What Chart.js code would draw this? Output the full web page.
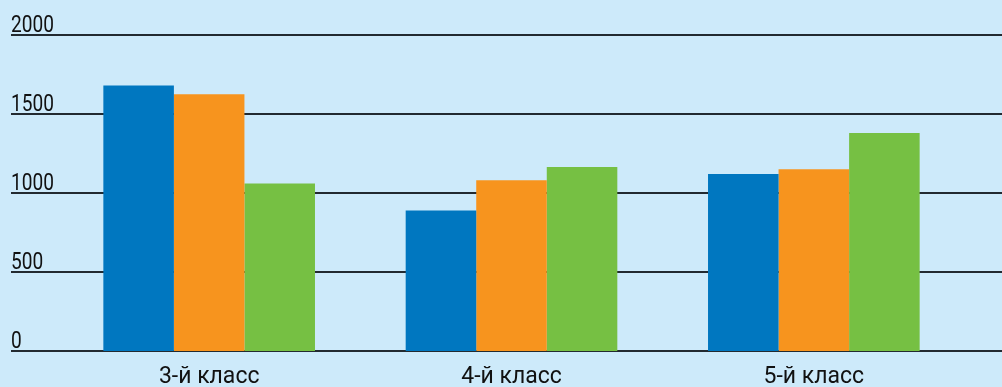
<!DOCTYPE html>
<html>
<head>
<meta charset="utf-8">
<script src="https://cdn.jsdelivr.net/npm/chart.js@4.4.1/dist/chart.umd.min.js"></script>
<style>
  html, body { margin: 0; padding: 0; background: #cdeafa; }
  #wrap { width: 1002px; height: 387px; position: relative; }
</style>
</head>
<body>
<div id="wrap"><canvas id="grafico"></canvas></div>
<script>
// datos
var clases = ['3-й класс', '4-й класс', '5-й класс'];
var serie1 = [1680, 890, 1120];
var serie2 = [1625, 1080, 1150];
var serie3 = [1060, 1165, 1380];
var marcas = [0, 500, 1000, 1500, 2000];

var colores = ['#0077c0', '#f7941e', '#76c043'];
var fuente = '23px Roboto, sans-serif';

// texto con ancho ajustable (la fuente condensada no esta instalada)
function texto(ctx, t, x, y, align, sx) {
  ctx.save();
  ctx.translate(x, y);
  ctx.scale(sx, 1);
  ctx.textAlign = align;
  ctx.fillText(t, 0, 0);
  ctx.restore();
}

// fondo, lineas de la grilla y textos de los ejes
var fondoYLineas = {
  id: 'fondoYLineas',
  beforeDraw: function(chart) {
    var ctx = chart.ctx;
    ctx.save();
    ctx.fillStyle = '#cdeafa';
    ctx.fillRect(0, 0, chart.width, chart.height);
    ctx.restore();
  },
  beforeDatasetsDraw: function(chart) {
    var ctx = chart.ctx;
    var y = chart.scales.y;
    ctx.save();
    ctx.strokeStyle = '#222a30';
    ctx.lineWidth = 2;
    ctx.fillStyle = '#111';
    ctx.font = fuente;
    ctx.textBaseline = 'alphabetic';
    for (var i = 0; i < marcas.length; i++) {
      var py = Math.round(y.getPixelForValue(marcas[i]));
      ctx.beginPath();
      ctx.moveTo(11, py);
      ctx.lineTo(chart.width, py);
      ctx.stroke();
      texto(ctx, String(marcas[i]), 11, py - 3, 'left', 0.83);
    }
    ctx.restore();
  },
  afterDatasetsDraw: function(chart) {
    var ctx = chart.ctx;
    var x = chart.scales.x;
    ctx.save();
    ctx.fillStyle = '#111';
    ctx.font = fuente;
    ctx.textBaseline = 'alphabetic';
    for (var i = 0; i < clases.length; i++) {
      texto(ctx, clases[i], x.getPixelForValue(i), 383, 'center', 1.0);
    }
    ctx.restore();
  }
};

var ctx = document.getElementById('grafico').getContext('2d');
var myChart = new Chart(ctx, {
  type: 'bar',
  data: {
    labels: clases,
    datasets: [
      { data: serie1, backgroundColor: colores[0] },
      { data: serie2, backgroundColor: colores[1] },
      { data: serie3, backgroundColor: colores[2] }
    ]
  },
  options: {
    responsive: true,
    maintainAspectRatio: false,
    animation: false,
    layout: { padding: { left: 58, right: 37, top: 35, bottom: 36 } },
    datasets: { bar: { categoryPercentage: 0.7, barPercentage: 1.0 } },
    plugins: { legend: { display: false }, tooltip: { enabled: false } },
    scales: {
      x: { display: false },
      y: { display: false, min: 0, max: 2000 }
    }
  },
  plugins: [fondoYLineas]
});
</script>
</body>
</html>
